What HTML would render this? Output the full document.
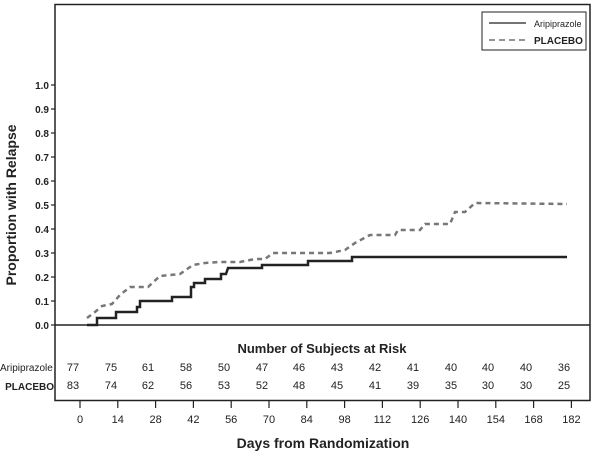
<!DOCTYPE html>
<html><head><style>body{margin:0;background:#fff}svg{display:block}text{font-family:"Liberation Sans",Arial,sans-serif}</style></head>
<body>
<svg width="601" height="461" viewBox="0 0 601 461" xmlns="http://www.w3.org/2000/svg">
<rect x="55" y="4.5" width="535" height="396" fill="none" stroke="#222" stroke-width="1.5"/>
<line x1="55" y1="325" x2="590" y2="325" stroke="#222" stroke-width="1.5"/>
<g stroke="#222" stroke-width="1.2">
<line x1="51" y1="325" x2="55" y2="325"/><line x1="51" y1="301" x2="55" y2="301"/><line x1="51" y1="277" x2="55" y2="277"/><line x1="51" y1="253" x2="55" y2="253"/><line x1="51" y1="229" x2="55" y2="229"/><line x1="51" y1="205" x2="55" y2="205"/><line x1="51" y1="181" x2="55" y2="181"/><line x1="51" y1="157" x2="55" y2="157"/><line x1="51" y1="133" x2="55" y2="133"/><line x1="51" y1="109" x2="55" y2="109"/><line x1="51" y1="85" x2="55" y2="85"/>
</g>
<g font-size="10" font-weight="bold" fill="#222" text-anchor="end">
<text x="49" y="329">0.0</text><text x="49" y="305">0.1</text><text x="49" y="281">0.2</text><text x="49" y="257">0.3</text><text x="49" y="233">0.4</text><text x="49" y="209">0.5</text><text x="49" y="185">0.6</text><text x="49" y="161">0.7</text><text x="49" y="137">0.8</text><text x="49" y="113">0.9</text><text x="49" y="89">1.0</text>
</g>
<text transform="translate(16,205) rotate(-90)" text-anchor="middle" font-size="14" font-weight="bold" fill="#222">Proportion with Relapse</text>
<rect x="482" y="12" width="104" height="38" fill="#fff" stroke="#222" stroke-width="1"/>
<line x1="489" y1="23" x2="526" y2="23" stroke="#222" stroke-width="1.2"/>
<line x1="489" y1="40" x2="526" y2="40" stroke="#555" stroke-width="1.2" stroke-dasharray="6,4"/>
<text x="534" y="27" font-size="9" fill="#222">Aripiprazole</text>
<text x="534" y="44" font-size="10" font-weight="bold" fill="#222">PLACEBO</text>
<polyline fill="none" stroke="#777" stroke-width="2.5" stroke-dasharray="5,4" points="87,318 95,312 102,306 112,304 120,295 130,287 148,287 160,276 180,274 193,265 205,263 220,262 240,262 255,259 265,259 273,253 330,253 345,250 355,243 370,235 395,235 398,230 420,230 425,224 450,224 455,212 465,212 475,203 567,204"/>
<polyline fill="none" stroke="#222" stroke-width="2.5" points="87,325 97,325 97,318 116,318 116,312 137,312 137,307 140,307 140,301 172,301 172,297 191,297 191,287 194,287 194,283 205,283 205,279 221,279 221,274 226,274 228,268 262,268 262,265 308,265 308,261 352,261 352,257 567,257"/>
<text x="322" y="353" text-anchor="middle" font-size="13" font-weight="bold" fill="#222">Number of Subjects at Risk</text>
<text x="0" y="371" font-size="10" fill="#222">Aripiprazole</text>
<text x="54" y="390" text-anchor="end" font-size="10" font-weight="bold" fill="#222">PLACEBO</text>
<g font-size="11" fill="#222" text-anchor="middle">
<text x="73" y="371">77</text><text x="111" y="371">75</text><text x="148" y="371">61</text><text x="186" y="371">58</text><text x="224" y="371">50</text><text x="262" y="371">47</text><text x="299" y="371">46</text><text x="337" y="371">43</text><text x="375" y="371">42</text><text x="413" y="371">41</text><text x="451" y="371">40</text><text x="488" y="371">40</text><text x="526" y="371">40</text><text x="564" y="371">36</text>
<text x="73" y="389">83</text><text x="111" y="389">74</text><text x="148" y="389">62</text><text x="186" y="389">56</text><text x="224" y="389">53</text><text x="262" y="389">52</text><text x="299" y="389">48</text><text x="337" y="389">45</text><text x="375" y="389">41</text><text x="413" y="389">39</text><text x="451" y="389">35</text><text x="488" y="389">30</text><text x="526" y="389">30</text><text x="564" y="389">25</text>
</g>
<g stroke="#222" stroke-width="1.2">
<line x1="80" y1="401" x2="80" y2="408"/><line x1="117.8" y1="401" x2="117.8" y2="408"/><line x1="155.6" y1="401" x2="155.6" y2="408"/><line x1="193.4" y1="401" x2="193.4" y2="408"/><line x1="231.2" y1="401" x2="231.2" y2="408"/><line x1="269" y1="401" x2="269" y2="408"/><line x1="306.8" y1="401" x2="306.8" y2="408"/><line x1="344.6" y1="401" x2="344.6" y2="408"/><line x1="382.4" y1="401" x2="382.4" y2="408"/><line x1="420.2" y1="401" x2="420.2" y2="408"/><line x1="458" y1="401" x2="458" y2="408"/><line x1="495.8" y1="401" x2="495.8" y2="408"/><line x1="533.6" y1="401" x2="533.6" y2="408"/><line x1="571.4" y1="401" x2="571.4" y2="408"/>
</g>
<g font-size="11" fill="#222" text-anchor="middle">
<text x="80" y="423">0</text><text x="117.8" y="423">14</text><text x="155.6" y="423">28</text><text x="193.4" y="423">42</text><text x="231.2" y="423">56</text><text x="269" y="423">70</text><text x="306.8" y="423">84</text><text x="344.6" y="423">98</text><text x="382.4" y="423">112</text><text x="420.2" y="423">126</text><text x="458" y="423">140</text><text x="495.8" y="423">154</text><text x="533.6" y="423">168</text><text x="571.4" y="423">182</text>
</g>
<text x="323" y="448" text-anchor="middle" font-size="14" font-weight="bold" fill="#222">Days from Randomization</text>
</svg>
</body></html>
